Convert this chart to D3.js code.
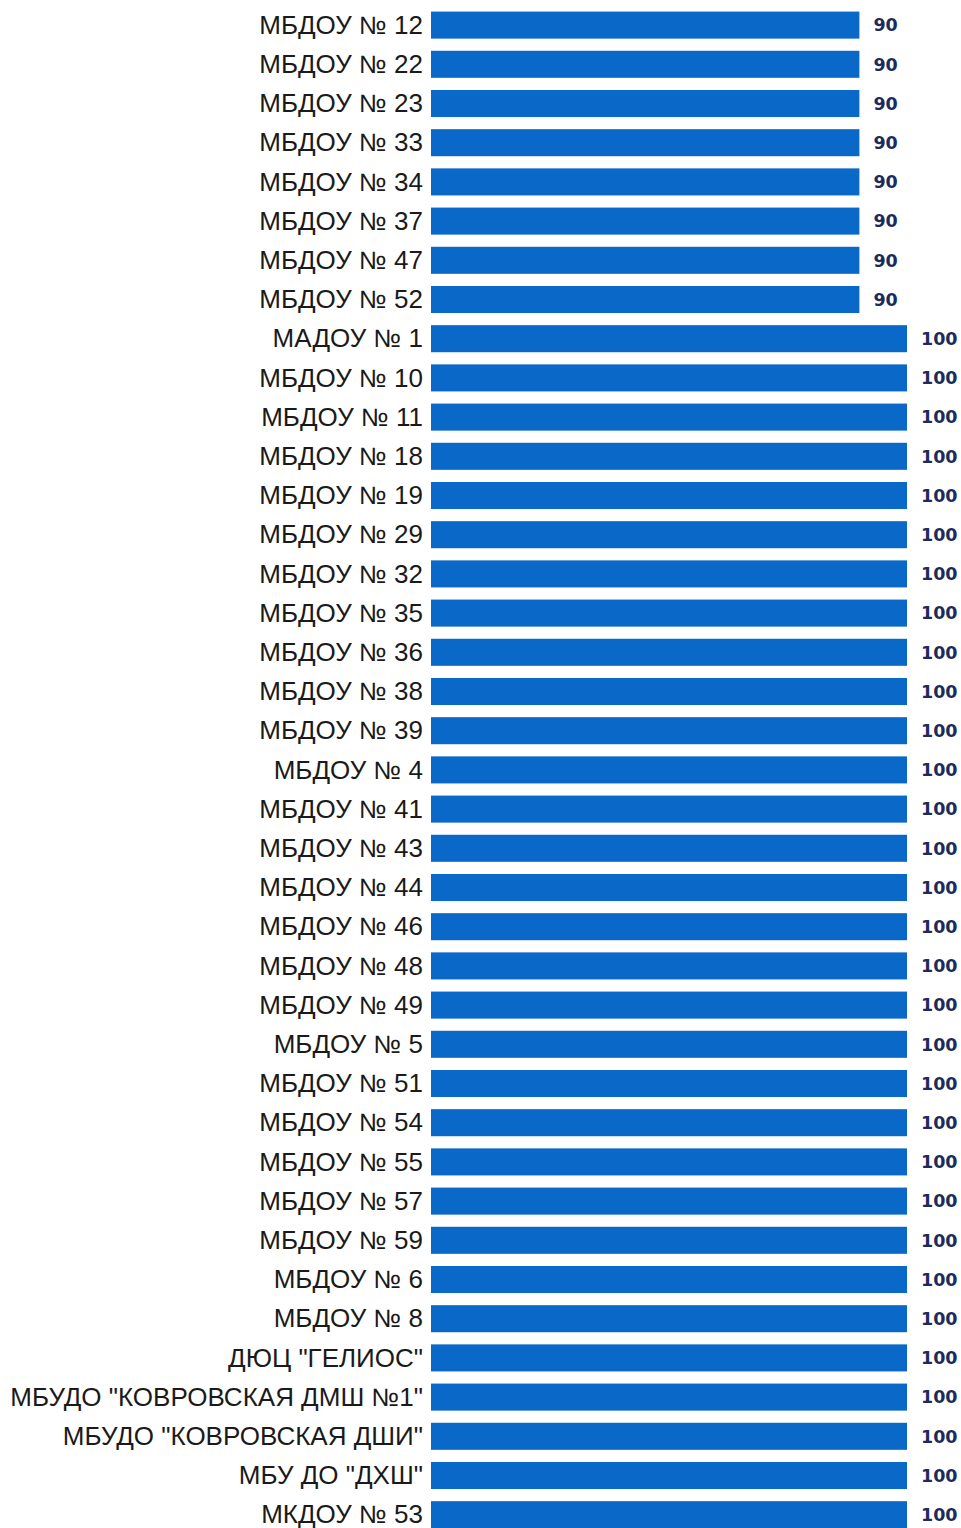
<!DOCTYPE html>
<html><head><meta charset="utf-8">
<script src="https://cdn.jsdelivr.net/npm/d3@7"></script>
<style>body{margin:0;background:#fff;}svg{display:block;}</style>
</head><body>
<svg id="chart" width="961" height="1528"></svg>
<script>
const categories = [
  "МБДОУ № 12","МБДОУ № 22","МБДОУ № 23","МБДОУ № 33","МБДОУ № 34","МБДОУ № 37","МБДОУ № 47","МБДОУ № 52",
  "МАДОУ № 1","МБДОУ № 10","МБДОУ № 11","МБДОУ № 18","МБДОУ № 19","МБДОУ № 29","МБДОУ № 32","МБДОУ № 35",
  "МБДОУ № 36","МБДОУ № 38","МБДОУ № 39","МБДОУ № 4","МБДОУ № 41","МБДОУ № 43","МБДОУ № 44","МБДОУ № 46",
  "МБДОУ № 48","МБДОУ № 49","МБДОУ № 5","МБДОУ № 51","МБДОУ № 54","МБДОУ № 55","МБДОУ № 57","МБДОУ № 59",
  "МБДОУ № 6","МБДОУ № 8","ДЮЦ \"ГЕЛИОС\"","МБУДО \"КОВРОВСКАЯ ДМШ №1\"","МБУДО \"КОВРОВСКАЯ ДШИ\"","МБУ ДО \"ДХШ\"","МКДОУ № 53"
];
const values = [90,90,90,90,90,90,90,90,
  100,100,100,100,100,100,100,100,100,100,100,100,100,100,100,100,100,100,100,100,100,100,100,100,100,100,100,100,100,100,100];

const svg = d3.select("#chart");
const xStart = 431, step = 39.2, yTop = 5.5;
const x = d3.scaleLinear().domain([0,100]).range([xStart, 907]);
const y = d3.scaleBand().domain(categories).range([yTop, yTop + step*categories.length]).paddingInner(0.31).paddingOuter(0.155);

const data = categories.map((c,i)=>({c, v: values[i]}));

svg.selectAll("rect.bar").data(data).join("rect")
  .attr("class","bar")
  .attr("x", x(0))
  .attr("y", d=>y(d.c))
  .attr("width", d=>x(d.v)-x(0))
  .attr("height", y.bandwidth())
  .attr("fill", "#0a69c8");

svg.selectAll("text.cat").data(data).join("text")
  .attr("class","cat")
  .attr("transform", d=>`translate(${x(0)-8},${y(d.c)+y.bandwidth()/2}) scale(1.04,1)`)
  .attr("dy","0.35em")
  .attr("text-anchor","end")
  .attr("font-family","'Liberation Sans', Arial, sans-serif")
  .attr("font-size", 25)
  .attr("fill","#1a1a1a")
  .text(d=>d.c);

svg.selectAll("text.val").data(data).join("text")
  .attr("class","val")
  .attr("x", d=>x(d.v)+14)
  .attr("y", d=>y(d.c)+y.bandwidth()/2)
  .attr("dy","0.36em")
  .attr("font-family","'DejaVu Sans', sans-serif")
  .attr("font-weight","bold")
  .attr("font-size", 17.5)
  .attr("fill","#1c2b5c")
  .text(d=>d.v);
</script>
</body></html>
